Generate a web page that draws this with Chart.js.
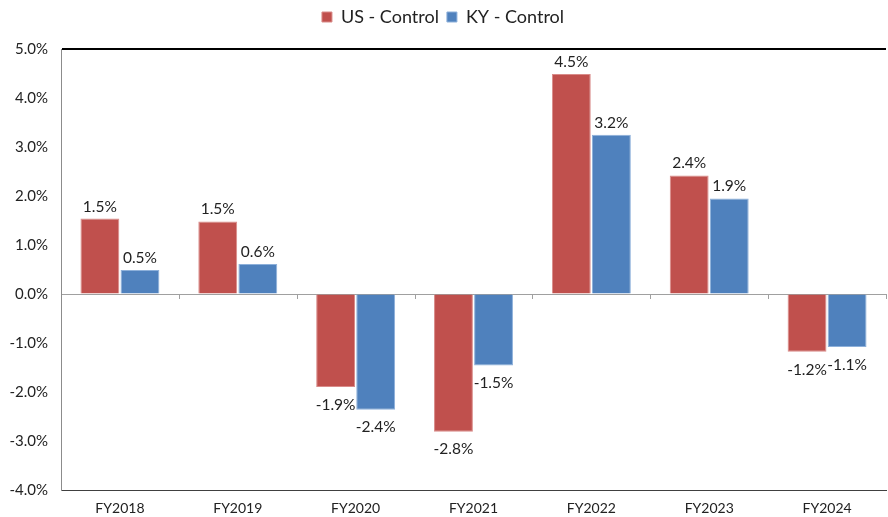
<!DOCTYPE html>
<html>
<head>
<meta charset="utf-8">
<script src="https://cdn.jsdelivr.net/npm/chart.js@4.4.1/dist/chart.umd.min.js"></script>
<style>
  html, body { margin: 0; padding: 0; background: #fff; }
  #wrap { width: 888px; height: 517px; }
</style>
</head>
<body>
<div id="wrap"><canvas id="myBarChart" width="888" height="517"></canvas></div>
<script>
let years = ['FY2018', 'FY2019', 'FY2020', 'FY2021', 'FY2022', 'FY2023', 'FY2024'];
let usControl = [1.54, 1.48, -1.90, -2.81, 4.49, 2.42, -1.18];
let kyControl = [0.49, 0.61, -2.36, -1.46, 3.25, 1.95, -1.08];
let usLabels = ['1.5%', '1.5%', '-1.9%', '-2.8%', '4.5%', '2.4%', '-1.2%'];
let kyLabels = ['0.5%', '0.6%', '-2.4%', '-1.5%', '3.2%', '1.9%', '-1.1%'];
let yTicks = [5, 4, 3, 2, 1, 0, -1, -2, -3, -4];

let fontFam = "Lato, 'Noto Sans', sans-serif";

// make room under the legend
let legendGap = {
    id: 'legendGap',
    beforeInit(chart) {
        let fit = chart.legend.fit;
        chart.legend.fit = function () {
            fit.bind(chart.legend)();
            this.height = 49;
        };
    }
};

// data labels above positive bars, below negative bars
let barLabels = {
    id: 'barLabels',
    afterDatasetsDraw(chart) {
        let c = chart.ctx;
        let texts = [usLabels, kyLabels];
        c.save();
        c.font = '15.5px ' + fontFam;
        c.fillStyle = '#222';
        c.textAlign = 'center';
        chart.data.datasets.forEach((ds, i) => {
            chart.getDatasetMeta(i).data.forEach((bar, j) => {
                let v = ds.data[j];
                if (v >= 0) {
                    c.textBaseline = 'alphabetic';
                    c.fillText(texts[i][j], bar.x, bar.y - 7);
                } else {
                    c.textBaseline = 'top';
                    c.fillText(texts[i][j], bar.x, bar.y + 10);
                }
            });
        });
        c.restore();
    }
};

// small tick marks on the zero line between categories
let zeroTicks = {
    id: 'zeroTicks',
    afterDatasetsDraw(chart) {
        let c = chart.ctx;
        let x = chart.scales.x;
        let y0 = chart.scales.y.getPixelForValue(0);
        let step = (x.right - x.left) / years.length;
        c.save();
        c.strokeStyle = '#a0a0a0';
        c.lineWidth = 1;
        for (let k = 1; k <= years.length; k++) {
            let px = Math.round(x.left + step * k) + 0.5;
            c.beginPath();
            c.moveTo(px, y0);
            c.lineTo(px, y0 + 5);
            c.stroke();
        }
        c.restore();
    }
};

let ctx1 = document.getElementById('myBarChart').getContext('2d');
let myBarChart = new Chart(ctx1, {
    type: 'bar',
    data: {
        labels: years,
        datasets: [{
            label: 'US - Control',
            data: usControl,
            backgroundColor: '#c0504d',
            borderColor: '#d98b89',
            borderWidth: 1,
            categoryPercentage: 0.68,
            barPercentage: 0.97,
        }, {
            label: 'KY - Control',
            data: kyControl,
            backgroundColor: '#4f81bd',
            borderColor: '#8db0da',
            borderWidth: 1,
            categoryPercentage: 0.68,
            barPercentage: 0.97,
        }]
    },
    options: {
        responsive: false,
        animation: false,
        layout: { padding: { left: 0, right: 2, top: 0, bottom: 0 } },
        plugins: {
            tooltip: { enabled: false },
            legend: {
                position: 'top',
                labels: {
                    boxWidth: 10,
                    boxHeight: 10,
                    padding: 8,
                    color: '#222',
                    font: { family: fontFam, size: 18 },
                },
            },
        },
        scales: {
            x: {
                grid: { display: false, drawTicks: false },
                border: { color: '#404040', width: 1 },
                afterFit(axis) {
                    axis.height = 27;
                },
                ticks: {
                    color: '#222',
                    padding: 10,
                    font: { family: fontFam, size: 14 },
                },
            },
            y: {
                min: -4,
                max: 5,
                afterBuildTicks(axis) {
                    axis.ticks = yTicks.map(v => ({ value: v }));
                },
                afterFit(axis) {
                    axis.width = 61;
                },
                border: { color: '#8c8c8c', width: 1 },
                grid: {
                    drawTicks: false,
                    color(c) {
                        if (c.tick.value === 5) return '#000';
                        if (c.tick.value === 0) return '#a0a0a0';
                        return 'rgba(0,0,0,0)';
                    },
                    lineWidth(c) {
                        return c.tick.value === 5 ? 2 : 1;
                    },
                },
                ticks: {
                    color: '#222',
                    padding: 13,
                    font: { family: fontFam, size: 15 },
                    callback: v => v.toFixed(1) + '%',
                },
            },
        },
    },
    plugins: [legendGap, barLabels, zeroTicks],
});
</script>
</body>
</html>
